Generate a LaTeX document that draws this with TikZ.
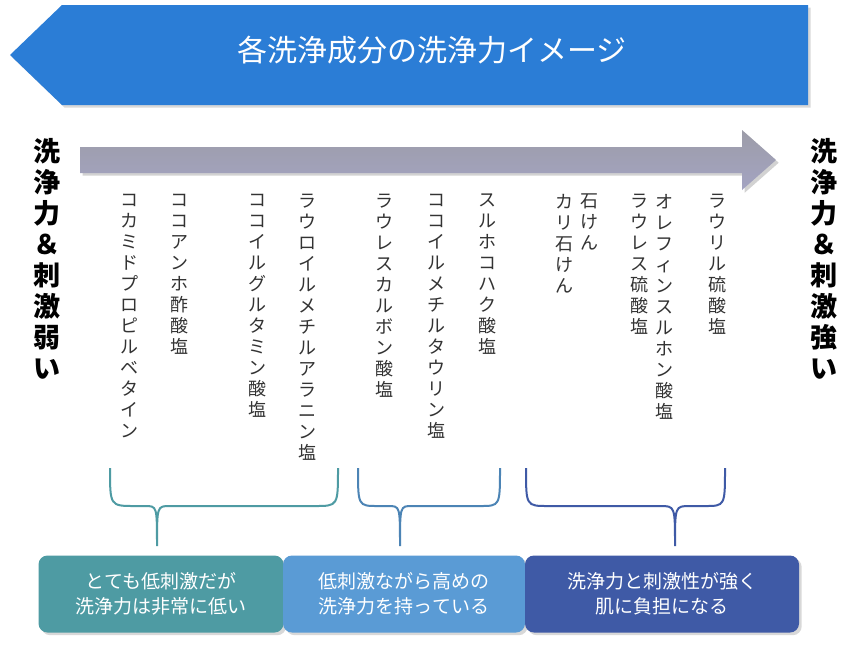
\documentclass[tikz,border=0pt]{standalone}
\usepackage{fontspec}
\setmainfont{Noto Sans CJK JP}
\newfontfamily\jpb[BoldFont={Noto Sans CJK JP Bold}]{Noto Sans CJK JP}
\usetikzlibrary{shadows}
\ExplSyntaxOn
\NewDocumentCommand\vtx{m}{\tl_map_inline:nn{#1}{\hbox_to_wd:nn{1em}{\hss##1\hss}\par}}
\ExplSyntaxOff
\definecolor{banner}{HTML}{2B7DD6}
\definecolor{gA}{HTML}{4E9BA3}
\definecolor{gB}{HTML}{5A9BD5}
\definecolor{gC}{HTML}{3F5AA6}
\tikzset{
 vcol/.style={anchor=north,inner sep=0pt,font=\fontsize{18}{21}\selectfont,text=black!80,align=center,text width=1em},
 side/.style={anchor=north,inner sep=0pt,font=\fontsize{27}{31}\selectfont\bfseries,align=center,text width=1em},
 brace/.style={line width=2pt},
 box/.style={rounded corners=9pt,minimum height=77pt,text=white,align=center,font=\fontsize{19}{25}\selectfont,drop shadow={opacity=0.3}},
}
\begin{document}
\begin{tikzpicture}[x=1pt,y=-1pt]
\useasboundingbox[fill=white] (0,0) rectangle (845,646);
% banner
\fill[banner,drop shadow={opacity=0.3}] (808,5) -- (62,5) -- (10,55) -- (62,105) -- (808,105) -- cycle;
\node[text=white,font=\fontsize{30}{34}\selectfont] (title) at (432,50) {各洗浄成分の洗浄力イメージ};
% arrow
\shade[top color=black!35!blue!10!gray!70,bottom color=blue!20!gray!60,drop shadow={opacity=0.35}]
 (80,147) -- (742,147) -- (742,130) -- (776,160) -- (742,190) -- (742,173) -- (80,173) -- cycle;
% sides
\node[side] (sl) at (38,138) {\vtx{洗浄力＆刺激弱い}};
\node[side] (sr) at (815,138) {\vtx{洗浄力＆刺激強い}};
% columns
\node[vcol] (c1) at (125,194) {\vtx{コカミドプロピルベタイン}};
\node[vcol] (c2) at (175,194) {\vtx{ココアンホ酢酸塩}};
\node[vcol] (c3) at (253,194) {\vtx{ココイルグルタミン酸塩}};
\node[vcol] (c4) at (303,194) {\vtx{ラウロイルメチルアラニン塩}};
\node[vcol] (c5) at (380,194) {\vtx{ラウレスカルボン酸塩}};
\node[vcol] (c6) at (432,194) {\vtx{ココイルメチルタウリン塩}};
\node[vcol] (c7) at (483,194) {\vtx{スルホコハク酸塩}};
\node[vcol] (c8) at (585,194) {\vtx{石けん}};
\node[vcol] (c9) at (560,194) {\vtx{カリ石けん}};
\node[vcol] (c10) at (660,194) {\vtx{オレフィンスルホン酸塩}};
\node[vcol] (c11) at (635,194) {\vtx{ラウレス硫酸塩}};
\node[vcol] (c12) at (713,194) {\vtx{ラウリル硫酸塩}};
% braces
\draw[brace,gA] (110,468) .. controls (110,506) .. (135,506) -- (145,506) .. controls (157,506) .. (157,546)
  .. controls (157,506) .. (170,506) -- (315,506) .. controls (338,506) .. (338,468);
\draw[brace,gB!85!black] (358,468) .. controls (358,506) .. (378,506) -- (388,506) .. controls (400,506) .. (400,546)
  .. controls (400,506) .. (412,506) -- (480,506) .. controls (500,506) .. (500,468);
\draw[brace,gC] (526,468) .. controls (526,506) .. (548,506) -- (660,506) .. controls (675,506) .. (675,546)
  .. controls (675,506) .. (690,506) -- (705,506) .. controls (725,506) .. (725,468);
% boxes
\node[box,fill=gA,minimum width=245pt] (b1) at (161,594) {とても低刺激だが\\洗浄力は非常に低い};
\node[box,fill=gB,minimum width=242pt] (b2) at (404,594) {低刺激ながら高めの\\洗浄力を持っている};
\node[box,fill=gC,minimum width=274pt] (b3) at (662,594) {洗浄力と刺激性が強く\\肌に負担になる};
\end{tikzpicture}
\end{document}
